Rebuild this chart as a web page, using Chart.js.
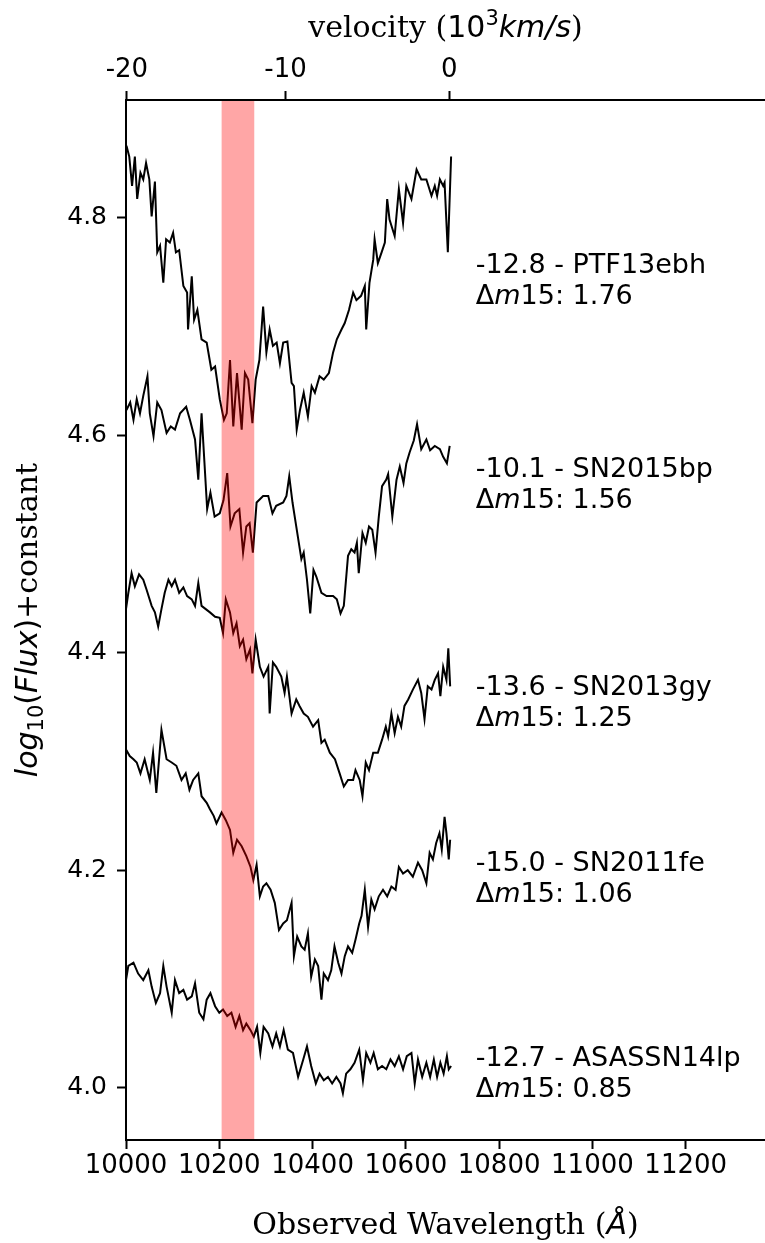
<!DOCTYPE html>
<html>
<head>
<meta charset="utf-8">
<script src="https://cdn.jsdelivr.net/npm/chart.js@4/dist/chart.umd.min.js"></script>
<style>
  html, body { margin: 0; padding: 0; background: #fff; }
  #wrap { position: relative; width: 765px; height: 1243px; }
</style>
</head>
<body>
<div id="wrap"><canvas id="spectra"></canvas></div>
<script>
// [wavelength (A), log10 flux + offset]
const ptf13ebh = [
  [10001,4.866],[10007,4.856],[10013,4.829],[10019,4.856],[10024,4.817],[10031,4.841],[10037,4.835],[10043,4.850],
  [10050,4.835],[10055,4.801],[10062,4.833],[10067,4.768],[10073,4.774],[10080,4.740],[10086,4.780],[10094,4.777],
  [10101,4.786],[10107,4.768],[10114,4.770],[10123,4.737],[10131,4.731],[10133,4.697],[10141,4.746],[10146,4.706],
  [10153,4.715],[10162,4.688],[10173,4.685],[10183,4.660],[10191,4.663],[10201,4.633],[10210,4.614],[10216,4.620],
  [10223,4.669],[10230,4.608],[10238,4.657],[10248,4.605],[10255,4.657],[10262,4.651],[10271,4.611],[10278,4.651],
  [10286,4.669],[10294,4.718],[10301,4.676],[10308,4.697],[10315,4.682],[10323,4.685],[10330,4.666],[10337,4.685],
  [10346,4.686],[10355,4.648],[10360,4.645],[10366,4.605],[10373,4.623],[10381,4.639],[10390,4.617],[10398,4.645],
  [10405,4.639],[10415,4.654],[10424,4.651],[10435,4.657],[10444,4.676],[10452,4.688],[10462,4.697],[10469,4.703],
  [10478,4.715],[10487,4.731],[10494,4.724],[10504,4.728],[10512,4.737],[10515,4.697],[10522,4.740],[10530,4.761],
  [10533,4.780],[10540,4.758],[10548,4.768],[10555,4.777],[10560,4.817],[10565,4.798],[10576,4.783],[10585,4.826],
  [10594,4.795],[10601,4.829],[10612,4.817],[10623,4.844],[10633,4.835],[10644,4.835],[10655,4.820],[10662,4.829],
  [10667,4.820],[10673,4.835],[10680,4.829],[10683,4.832],[10690,4.768],[10697,4.856]
];
const sn2015bp = [
  [10001,4.623],[10009,4.630],[10016,4.614],[10023,4.633],[10030,4.620],[10037,4.636],[10046,4.654],[10051,4.620],
  [10059,4.599],[10067,4.630],[10076,4.623],[10087,4.602],[10096,4.608],[10105,4.605],[10116,4.620],[10129,4.626],
  [10137,4.614],[10148,4.596],[10155,4.559],[10162,4.620],[10174,4.532],[10181,4.547],[10190,4.525],[10201,4.528],
  [10209,4.540],[10217,4.565],[10224,4.516],[10233,4.528],[10243,4.532],[10251,4.492],[10258,4.516],[10265,4.519],
  [10272,4.492],[10280,4.538],[10294,4.544],[10305,4.544],[10314,4.528],[10322,4.535],[10337,4.538],[10344,4.544],
  [10350,4.562],[10357,4.538],[10365,4.516],[10376,4.486],[10381,4.492],[10388,4.467],[10395,4.436],[10402,4.476],
  [10408,4.470],[10419,4.455],[10430,4.452],[10444,4.452],[10452,4.449],[10460,4.436],[10467,4.443],[10476,4.489],
  [10483,4.495],[10490,4.492],[10495,4.501],[10499,4.473],[10507,4.510],[10514,4.501],[10521,4.516],[10528,4.513],
  [10535,4.492],[10542,4.525],[10549,4.553],[10558,4.559],[10562,4.564],[10571,4.525],[10580,4.559],[10587,4.571],
  [10595,4.556],[10601,4.574],[10608,4.584],[10617,4.595],[10624,4.610],[10633,4.587],[10644,4.596],[10652,4.586],
  [10662,4.590],[10673,4.587],[10680,4.580],[10688,4.574],[10694,4.590]
];
const sn2013gy = [
  [10000,4.440],[10005,4.455],[10012,4.473],[10019,4.461],[10028,4.472],[10037,4.467],[10044,4.458],[10055,4.443],
  [10062,4.437],[10069,4.424],[10076,4.440],[10083,4.455],[10091,4.467],[10098,4.461],[10105,4.467],[10114,4.455],
  [10123,4.460],[10131,4.452],[10141,4.449],[10148,4.443],[10155,4.464],[10162,4.443],[10171,4.440],[10180,4.437],
  [10191,4.433],[10201,4.432],[10208,4.418],[10214,4.449],[10223,4.437],[10230,4.418],[10237,4.427],[10244,4.406],
  [10251,4.412],[10258,4.394],[10266,4.403],[10271,4.381],[10278,4.412],[10287,4.387],[10295,4.378],[10305,4.387],
  [10308,4.344],[10315,4.391],[10322,4.387],[10333,4.378],[10340,4.363],[10345,4.378],[10355,4.344],[10365,4.357],
  [10372,4.351],[10381,4.344],[10390,4.341],[10401,4.332],[10412,4.338],[10419,4.317],[10426,4.320],[10437,4.308],
  [10448,4.302],[10458,4.289],[10467,4.277],[10476,4.283],[10487,4.283],[10492,4.292],[10501,4.283],[10507,4.268],
  [10514,4.299],[10521,4.292],[10530,4.308],[10540,4.308],[10549,4.320],[10557,4.332],[10562,4.323],[10569,4.344],
  [10576,4.326],[10583,4.341],[10590,4.332],[10597,4.351],[10605,4.357],[10615,4.366],[10626,4.375],[10633,4.363],
  [10640,4.339],[10647,4.369],[10655,4.366],[10662,4.375],[10669,4.381],[10674,4.360],[10680,4.387],[10687,4.375],
  [10691,4.404],[10695,4.369]
];
const sn2011fe = [
  [10000,4.311],[10008,4.305],[10016,4.302],[10023,4.299],[10031,4.289],[10040,4.302],[10051,4.283],[10058,4.308],
  [10065,4.271],[10076,4.329],[10087,4.302],[10098,4.299],[10108,4.296],[10119,4.283],[10128,4.289],[10136,4.274],
  [10144,4.283],[10155,4.289],[10162,4.268],[10173,4.262],[10180,4.256],[10188,4.250],[10194,4.243],[10205,4.253],
  [10214,4.246],[10223,4.237],[10230,4.216],[10238,4.228],[10248,4.222],[10258,4.213],[10267,4.203],[10273,4.191],
  [10280,4.205],[10287,4.176],[10294,4.185],[10301,4.188],[10310,4.182],[10319,4.170],[10328,4.145],[10337,4.151],
  [10345,4.154],[10355,4.170],[10360,4.121],[10367,4.139],[10376,4.130],[10383,4.127],[10390,4.142],[10397,4.102],
  [10405,4.118],[10412,4.112],[10419,4.081],[10424,4.105],[10433,4.099],[10440,4.108],[10447,4.130],[10455,4.115],
  [10462,4.105],[10469,4.121],[10476,4.130],[10485,4.124],[10492,4.136],[10500,4.151],[10505,4.158],[10512,4.182],
  [10519,4.148],[10526,4.173],[10533,4.164],[10542,4.176],[10551,4.182],[10560,4.176],[10569,4.185],[10578,4.182],
  [10585,4.203],[10594,4.197],[10604,4.200],[10615,4.194],[10626,4.207],[10635,4.200],[10644,4.188],[10651,4.216],
  [10658,4.210],[10665,4.225],[10672,4.234],[10677,4.219],[10683,4.249],[10687,4.234],[10692,4.210],[10695,4.228]
];
const asassn14lp = [
  [10000,4.099],[10005,4.112],[10016,4.115],[10026,4.105],[10037,4.099],[10048,4.108],[10055,4.093],[10064,4.078],
  [10073,4.087],[10080,4.112],[10087,4.093],[10098,4.069],[10105,4.099],[10114,4.087],[10123,4.090],[10131,4.081],
  [10141,4.084],[10148,4.096],[10157,4.069],[10166,4.063],[10173,4.081],[10181,4.087],[10191,4.075],[10200,4.069],
  [10208,4.072],[10217,4.066],[10226,4.069],[10235,4.056],[10243,4.066],[10251,4.053],[10258,4.059],[10267,4.053],
  [10274,4.047],[10281,4.056],[10288,4.032],[10295,4.056],[10305,4.050],[10314,4.038],[10322,4.050],[10330,4.038],
  [10338,4.053],[10347,4.035],[10358,4.032],[10369,4.010],[10380,4.026],[10388,4.038],[10397,4.020],[10407,4.004],
  [10415,4.013],[10424,4.007],[10433,4.010],[10442,4.004],[10451,4.010],[10460,4.004],[10465,3.995],[10472,4.013],
  [10481,4.017],[10490,4.023],[10500,4.035],[10508,4.007],[10515,4.032],[10524,4.023],[10531,4.032],[10540,4.017],
  [10549,4.020],[10558,4.017],[10567,4.026],[10576,4.020],[10585,4.029],[10594,4.017],[10602,4.029],[10612,4.032],
  [10619,4.004],[10626,4.026],[10635,4.010],[10644,4.023],[10652,4.010],[10660,4.026],[10667,4.010],[10674,4.023],
  [10681,4.013],[10688,4.029],[10692,4.017],[10697,4.020]
];

const spectra = [ptf13ebh, sn2015bp, sn2013gy, sn2011fe, asassn14lp];
const snNames = ['PTF13ebh', 'SN2015bp', 'SN2013gy', 'SN2011fe', 'ASASSN14lp'];
const phases = ['-12.8', '-10.1', '-13.6', '-15.0', '-12.7'];
const dm15 = ['1.76', '1.56', '1.25', '1.06', '0.85'];
const labelFlux = [4.749, 4.561, 4.361, 4.199, 4.020];
const labelWave = 10750;

const bandWave = [10205, 10275];
const waveTicks = [10000, 10200, 10400, 10600, 10800, 11000, 11200];
const fluxTicks = [4.0, 4.2, 4.4, 4.6, 4.8];
const velocityTicks = [-20, -10, 0];
const restWave = 10693;   // C I line

const waveRange = [10000, 11370];
const fluxRange = [3.952, 4.908];

const C_KMS = 299792.458;
function velToWave(v) {
  const b = v * 1000 / C_KMS;
  return restWave * Math.sqrt((1 + b) / (1 - b));
}

const SANS = '"DejaVu Sans", sans-serif';
const SERIF = '"DejaVu Serif", serif';

// draw a row of differently styled text pieces: [text, font, dy]
function drawRuns(ctx, runs, x, y, align) {
  let total = 0;
  runs.forEach(r => { ctx.font = r[1]; total += ctx.measureText(r[0]).width; });
  let cx = align === 'center' ? x - total / 2 : x;
  ctx.textAlign = 'left';
  runs.forEach(r => {
    ctx.font = r[1];
    ctx.fillText(r[0], cx, y + (r[2] || 0));
    cx += ctx.measureText(r[0]).width;
  });
}

const bandPlugin = {
  id: 'band',
  afterDatasetsDraw(chart) {
    const { ctx, chartArea, scales } = chart;
    const x0 = scales.x.getPixelForValue(bandWave[0]);
    const x1 = scales.x.getPixelForValue(bandWave[1]);
    ctx.save();
    ctx.fillStyle = 'rgba(255,0,0,0.35)';
    ctx.fillRect(x0, chartArea.top + 1, x1 - x0, chartArea.bottom - chartArea.top - 2);
    ctx.restore();
  }
};

const textPlugin = {
  id: 'texts',
  afterDraw(chart) {
    const { ctx, chartArea, scales } = chart;
    ctx.save();
    ctx.fillStyle = '#000';
    ctx.textBaseline = 'alphabetic';

    // spectrum annotations
    const fs = 27;
    const lx = scales.x.getPixelForValue(labelWave);
    spectra.forEach((_, i) => {
      const ly = scales.y.getPixelForValue(labelFlux[i]);
      drawRuns(ctx, [[phases[i] + ' - ' + snNames[i], fs + 'px ' + SANS]], lx, ly, 'left');
      drawRuns(ctx, [
        ['\u0394', fs + 'px ' + SANS],
        ['m', 'italic ' + fs + 'px ' + SANS],
        ['15: ' + dm15[i], fs + 'px ' + SANS]
      ], lx, ly + 31, 'left');
    });

    const ls = 30;
    const cx = (chartArea.left + chartArea.right) / 2;

    // bottom axis title
    drawRuns(ctx, [
      ['Observed Wavelength (', ls + 'px ' + SERIF],
      ['\u00C5', 'italic ' + ls + 'px ' + SANS],
      [')', ls + 'px ' + SERIF]
    ], cx, chart.height - 9, 'center');

    // top axis title
    drawRuns(ctx, [
      ['velocity (', ls + 'px ' + SERIF],
      ['10', ls + 'px ' + SANS],
      ['3', Math.round(ls * 0.7) + 'px ' + SANS, -12],
      ['km/s', 'italic ' + ls + 'px ' + SANS],
      [')', ls + 'px ' + SERIF]
    ], cx, 37, 'center');

    // y axis title
    ctx.translate(37, (chartArea.top + chartArea.bottom) / 2);
    ctx.rotate(-Math.PI / 2);
    drawRuns(ctx, [
      ['log', 'italic ' + ls + 'px ' + SANS],
      ['10', Math.round(ls * 0.7) + 'px ' + SANS, 6],
      ['(', ls + 'px ' + SANS],
      ['Flux', 'italic ' + ls + 'px ' + SANS],
      [')', ls + 'px ' + SANS],
      ['+constant', ls + 'px ' + SERIF]
    ], 0, 0, 'center');
    ctx.restore();
  }
};

const axisLook = {
  grid: { drawOnChartArea: false, drawTicks: true, tickLength: 9, tickColor: '#000', tickWidth: 2 },
  border: { display: true, color: '#000', width: 2 }
};

new Chart(document.getElementById('spectra'), {
  type: 'scatter',
  data: {
    datasets: spectra.map((s, i) => ({
      label: snNames[i],
      data: s.map(p => ({ x: p[0], y: p[1] })),
      showLine: true,
      borderColor: '#000',
      borderWidth: 2,
      pointRadius: 0,
      tension: 0,
      xAxisID: 'x',
      yAxisID: 'y'
    }))
  },
  options: {
    responsive: true,
    maintainAspectRatio: false,
    animation: false,
    layout: { padding: 0 },
    plugins: {
      legend: { display: false },
      tooltip: { enabled: false }
    },
    scales: {
      x: {
        type: 'linear',
        position: 'bottom',
        min: waveRange[0],
        max: waveRange[1],
        afterBuildTicks: s => { s.ticks = waveTicks.map(v => ({ value: v })); },
        afterFit: s => { s.height = 103; },
        ticks: {
          color: '#000', font: { family: SANS, size: 26 }, padding: 2,
          maxRotation: 0, autoSkip: false, callback: v => String(v)
        },
        ...axisLook
      },
      x2: {
        type: 'linear',
        position: 'top',
        min: waveRange[0],
        max: waveRange[1],
        afterBuildTicks: s => { s.ticks = velocityTicks.map(v => ({ value: velToWave(v) })); },
        afterFit: s => { s.height = 100; },
        ticks: {
          color: '#000', font: { family: SANS, size: 26 }, padding: 5,
          maxRotation: 0, autoSkip: false, callback: (v, i) => String(velocityTicks[i])
        },
        ...axisLook
      },
      y: {
        type: 'linear',
        min: fluxRange[0],
        max: fluxRange[1],
        afterBuildTicks: s => { s.ticks = fluxTicks.map(v => ({ value: v })); },
        afterFit: s => { s.width = 126; },
        ticks: {
          color: '#000', font: { family: SANS, size: 25 }, padding: 10,
          callback: v => v.toFixed(1)
        },
        ...axisLook
      }
    }
  },
  plugins: [bandPlugin, textPlugin]
});
</script>
</body>
</html>
